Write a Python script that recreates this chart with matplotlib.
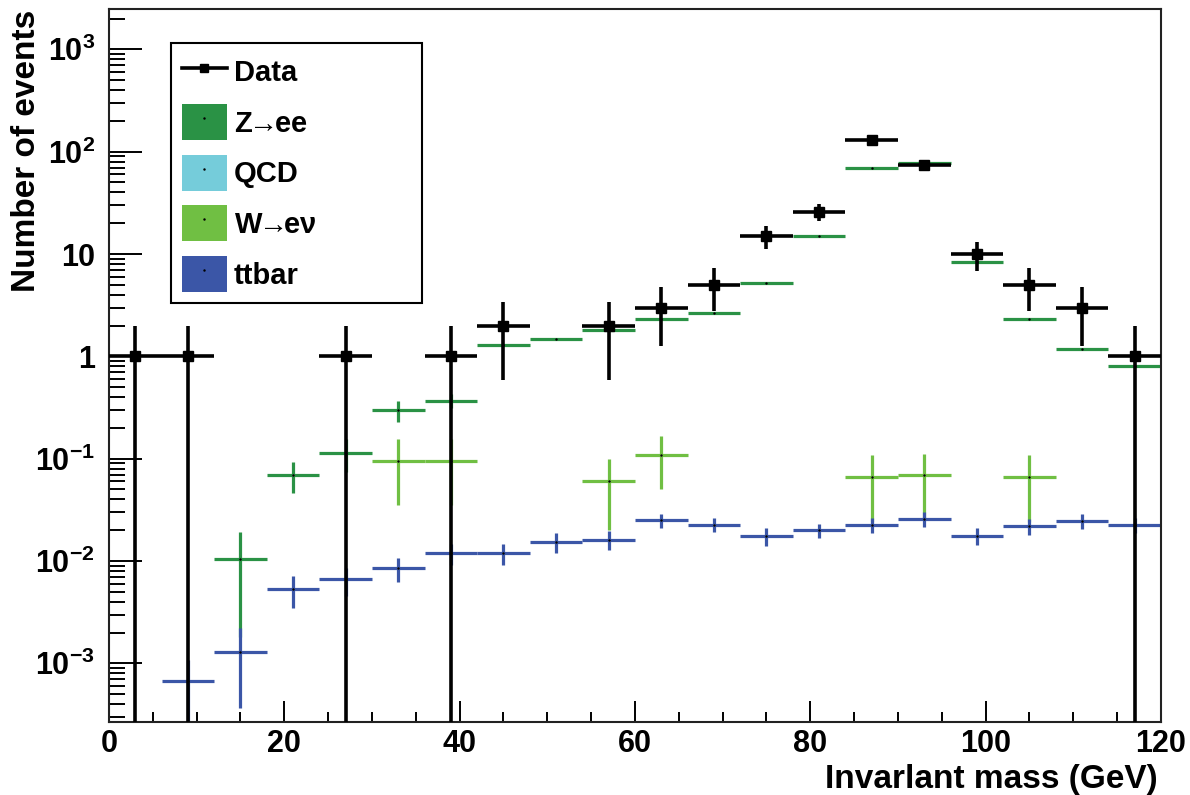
import matplotlib
matplotlib.use("Agg")
import matplotlib.pyplot as plt
import numpy as np
from matplotlib.lines import Line2D
from matplotlib.patches import Patch
from matplotlib.legend_handler import HandlerTuple
from matplotlib.ticker import FixedLocator, MultipleLocator

plt.rcParams["font.family"] = ["Liberation Sans", "DejaVu Sans"]
plt.rcParams["font.weight"] = "bold"
plt.rcParams["mathtext.fontset"] = "custom"
plt.rcParams["mathtext.rm"] = "Liberation Sans:bold"
plt.rcParams["mathtext.bf"] = "Liberation Sans:bold"
plt.rcParams["mathtext.it"] = "Liberation Sans:bold"

# 6 GeV bins, 0-120
bin_half = 3.0

# Data (counts, Poisson errors)
data_x = [3, 9, 27, 39, 45, 57, 63, 69, 75, 81, 87, 93, 99, 105, 111, 117]
data_y = [1, 1, 1, 1, 2, 2, 3, 5, 15, 26, 130, 74, 10, 5, 3, 1]

# Z -> ee
z_x = [15, 21, 27, 33, 39, 45, 51, 57, 63, 69, 75, 81, 87, 93, 99, 105, 111, 117]
z_y = [0.0105, 0.069, 0.114, 0.30, 0.37, 1.28, 1.47, 1.82, 2.33, 2.65, 5.2, 15.1,
       70.0, 78.0, 8.4, 2.33, 1.18, 0.80]
z_err = [0.0087, 0.023, 0.04, 0.07, 0.06, 0.0, 0.0, 0.0, 0.0, 0.0, 0.0, 0.0,
         0.0, 0.0, 0.0, 0.0, 0.0, 0.0]

# W -> e nu
w_x = [33, 39, 57, 63, 87, 93, 105]
w_y = [0.095, 0.095, 0.060, 0.109, 0.066, 0.069, 0.066]
w_err = [0.060, 0.060, 0.040, 0.058, 0.042, 0.043, 0.042]

# ttbar
tt_x = [9, 15, 21, 27, 33, 39, 45, 51, 57, 63, 69, 75, 81, 87, 93, 99, 105, 111, 117]
tt_y = [0.00067, 0.0013, 0.0053, 0.0066, 0.0085, 0.0119, 0.0119, 0.0153, 0.0161,
        0.0249, 0.0226, 0.0174, 0.0199, 0.0226, 0.0257, 0.0176, 0.0218, 0.0247, 0.0226]
tt_err = [0.0004, 0.00093, 0.0018, 0.002, 0.0023, 0.0028, 0.0028, 0.0034, 0.0034,
          0.0040, 0.0036, 0.0035, 0.0030, 0.0040, 0.0042, 0.0033, 0.0040, 0.0042, 0.004]

col_z = "#2a9245"
col_qcd = "#75ccda"
col_w = "#70bf43"
col_tt = "#3b56a7"

fig = plt.figure(figsize=(11.9, 7.95), dpi=100)
ax = fig.add_axes([0.0916, 0.0922, 0.884, 0.8965])


def draw_hist(x, y, err, color, lw=2.3):
    ax.errorbar(x, y, xerr=bin_half, yerr=err, fmt="none", ecolor=color,
                elinewidth=lw, capsize=0)
    ax.plot(x, y, ls="none", marker=".", ms=1.5, color="k")


draw_hist(z_x, z_y, z_err, col_z)
draw_hist(w_x, w_y, w_err, col_w)
draw_hist(tt_x, tt_y, tt_err, col_tt)

# data on top, lower error clipped below the axis for N=1
d_y = np.array(data_y, dtype=float)
d_err = np.sqrt(d_y)
d_low = np.minimum(d_err, d_y - 1e-6)
ax.errorbar(data_x, d_y, xerr=bin_half, yerr=[d_low, d_err], fmt="s", color="k",
            ms=7, elinewidth=2.6, capsize=0, zorder=5)

ax.set_yscale("log")
ax.set_xlim(0, 120)
ax.set_ylim(2.69e-4, 2480)

ax.xaxis.set_major_locator(MultipleLocator(20))
ax.xaxis.set_minor_locator(MultipleLocator(5))
ax.tick_params(axis="x", which="major", direction="in", length=15, width=1.4,
               labelsize=22, pad=5, top=False)
ax.tick_params(axis="x", which="minor", direction="in", length=7, width=1.4, top=False)

y_major = [1e-3, 1e-2, 1e-1, 1, 10, 1e2, 1e3]
y_labels = [r"$\mathbf{10^{-3}}$", r"$\mathbf{10^{-2}}$", r"$\mathbf{10^{-1}}$",
            "1", "10", r"$\mathbf{10^{2}}$", r"$\mathbf{10^{3}}$"]
ax.yaxis.set_major_locator(FixedLocator(y_major))
ax.set_yticklabels(y_labels)
minor = [m * 10.0 ** e for e in range(-4, 4) for m in range(2, 10)]
ax.yaxis.set_minor_locator(FixedLocator(minor))
ax.tick_params(axis="y", which="major", direction="in", length=24, width=1.4,
               labelsize=22, pad=10, right=False)
ax.tick_params(axis="y", which="minor", direction="in", length=11.5, width=1.4, right=False)
for lab in ax.get_xticklabels() + ax.get_yticklabels():
    lab.set_fontweight("bold")

for sp in ax.spines.values():
    sp.set_linewidth(1.5)
    sp.set_color("#222222")

fig.text(0.022, 1 - 10 / 795, "Number of events", rotation=90, ha="center",
         va="top", fontsize=24, fontweight="bold")
fig.text(1158 / 1190, 1 - 788 / 795, "Invarlant mass (GeV)", ha="right",
         va="baseline", fontsize=24, fontweight="bold")

dot = Line2D([], [], ls="none", marker=".", ms=1.5, color="k")
handles = [
    Line2D([], [], color="k", lw=2.6, marker="s", ms=6),
    (Patch(facecolor=col_z, edgecolor="none"), dot),
    (Patch(facecolor=col_qcd, edgecolor="none"), dot),
    (Patch(facecolor=col_w, edgecolor="none"), dot),
    (Patch(facecolor=col_tt, edgecolor="none"), dot),
]
labels = ["Data", r"Z$\!\!\rightarrow\!\!$ee", "QCD",
          r"W$\!\!\rightarrow\!\!$e$\nu$", "ttbar"]
leg = fig.legend(handles, labels, loc="upper left",
                 bbox_to_anchor=(171 / 1190, 1 - 43 / 795, 251 / 1190, 0.0),
                 mode="expand", borderaxespad=0, frameon=True,
                 fancybox=False, edgecolor="k", framealpha=1,
                 handlelength=1.54, handleheight=1.52, labelspacing=0.5,
                 borderpad=0.37, handletextpad=0.25,
                 handler_map={tuple: HandlerTuple(ndivide=1, pad=0)},
                 prop={"weight": "bold", "size": 21})
leg.get_frame().set_linewidth(1.5)

fig.savefig("out.png", dpi=100)
